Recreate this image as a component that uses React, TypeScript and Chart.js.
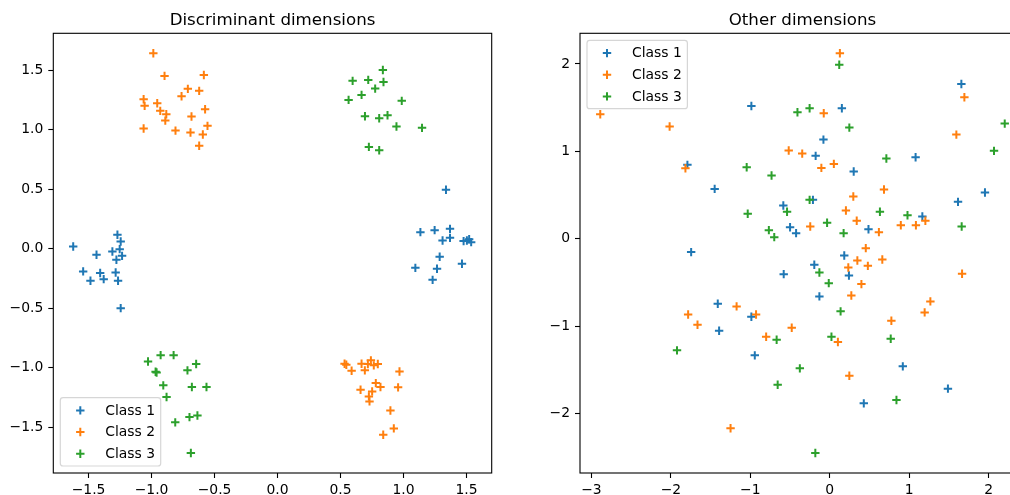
import { useEffect, useRef } from "react";
import { Chart, registerables } from "chart.js";

Chart.register(...registerables);

const FONT_FAMILY = "'DejaVu Sans', 'Liberation Sans', sans-serif";

const CLASS_LABELS = ["Class 1", "Class 2", "Class 3"];
const CLASS_COLORS = ["#1f77b4", "#ff7f0e", "#2ca02c"];

type Pt = [number, number];

// Projection onto the two discriminant dimensions
const discClass1: Pt[] = [
  [-1.622, 0.019], [-1.437, -0.05], [-1.311, -0.023], [-1.271, 0.118], [-1.245, 0.062],
  [-1.253, -0.003], [-1.279, -0.092], [-1.234, -0.059], [-1.543, -0.19], [-1.485, -0.269],
  [-1.408, -0.204], [-1.38, -0.255], [-1.285, -0.199], [-1.266, -0.269], [-1.245, -0.499],
  [1.337, 0.496], [1.134, 0.14], [1.247, 0.157], [1.369, 0.168], [1.31, 0.07],
  [1.369, 0.092], [1.477, 0.065], [1.503, 0.07], [1.521, 0.081], [1.537, 0.056],
  [1.287, -0.067], [1.094, -0.16], [1.266, -0.168], [1.464, -0.126], [1.231, -0.261],
];
const discClass2: Pt[] = [
  [-0.986, 1.644], [-0.897, 1.454], [-0.585, 1.462], [-1.063, 1.258], [-1.055, 1.202],
  [-0.955, 1.224], [-0.931, 1.16], [-0.883, 1.132], [-0.891, 1.078], [-1.063, 1.011],
  [-0.81, 0.994], [-0.762, 1.283], [-0.712, 1.345], [-0.622, 1.328], [-0.683, 1.112],
  [-0.691, 0.978], [-0.575, 1.174], [-0.556, 1.034], [-0.593, 0.961], [-0.622, 0.866],
  [0.532, -0.966], [0.546, -0.975], [0.588, -1.025], [0.667, -0.966], [0.693, -1.022],
  [0.741, -0.938], [0.717, -0.969], [0.764, -0.98], [0.796, -0.969], [0.968, -1.031],
  [0.957, -1.165], [0.78, -1.129], [0.817, -1.162], [0.659, -1.185], [0.751, -1.199],
  [0.725, -1.241], [0.73, -1.283], [0.896, -1.359], [0.923, -1.51], [0.839, -1.563],
];
const discClass3: Pt[] = [
  [0.596, 1.412], [0.564, 1.252], [0.667, 1.294], [0.72, 1.42], [0.775, 1.347],
  [0.836, 1.504], [0.841, 1.403], [0.986, 1.244], [0.694, 1.115], [0.807, 1.098],
  [0.873, 1.123], [0.944, 1.028], [1.147, 1.017], [0.725, 0.857], [0.807, 0.829],
  [-1.028, -0.947], [-0.928, -0.894], [-0.825, -0.894], [-0.968, -1.034], [-0.96, -1.04],
  [-0.646, -0.969], [-0.715, -1.022], [-0.907, -1.148], [-0.68, -1.162], [-0.564, -1.162],
  [-0.881, -1.246], [-0.812, -1.459], [-0.699, -1.415], [-0.636, -1.401], [-0.688, -1.717],
];

// Projection onto the remaining dimensions
const otherClass1: Pt[] = [
  [-0.987, 1.52], [0.152, 1.493], [1.656, 1.771], [-0.08, 1.135], [-0.178, 0.949],
  [0.301, 0.77], [1.08, 0.933], [-1.792, 0.846], [-1.449, 0.571], [-0.585, 0.381],
  [-0.212, 0.446], [-0.5, 0.133], [-0.424, 0.065], [0.487, 0.11], [1.165, 0.255],
  [1.614, 0.423], [1.953, 0.53], [-1.745, -0.152], [0.182, -0.191], [-0.195, -0.297],
  [-0.58, -0.404], [0.241, -0.419], [-0.131, -0.659], [-1.41, -0.743], [-0.987, -0.891],
  [-1.393, -1.051], [-0.944, -1.333], [0.919, -1.459], [1.487, -1.714], [0.428, -1.882],
];
const otherClass2: Pt[] = [
  [-2.889, 1.425], [0.127, 2.122], [-2.016, 1.284], [-1.817, 0.808], [-0.076, 1.436],
  [-0.517, 1.01], [-0.347, 0.975], [-0.106, 0.811], [0.051, 0.857], [1.593, 1.192],
  [1.694, 1.619], [0.296, 0.484], [0.682, 0.564], [0.203, 0.324], [0.339, 0.206],
  [-0.246, 0.141], [0.618, 0.076], [0.894, 0.156], [1.084, 0.156], [1.203, 0.206],
  [0.453, -0.107], [0.347, -0.248], [0.233, -0.328], [0.479, -0.309], [0.661, -0.236],
  [1.665, -0.4], [0.398, -0.518], [0.271, -0.648], [1.266, -0.716], [1.194, -0.842],
  [0.775, -0.937], [-1.783, -0.865], [-1.665, -0.983], [-1.173, -0.773], [-0.928, -0.865],
  [-0.479, -1.017], [-0.801, -1.12], [0.102, -1.181], [0.246, -1.566], [-1.249, -2.167],
];
const otherClass3: Pt[] = [
  [0.119, 1.992], [-0.407, 1.448], [-0.254, 1.493], [0.246, 1.272], [-1.046, 0.819],
  [-0.733, 0.724], [0.712, 0.918], [2.202, 1.318], [2.067, 1.006], [-1.033, 0.286],
  [-0.538, 0.309], [-0.254, 0.446], [-0.034, 0.183], [0.174, 0.065], [0.631, 0.309],
  [0.978, 0.27], [1.66, 0.141], [-0.767, 0.099], [-0.699, 0.019], [-0.131, -0.385],
  [-0.013, -0.507], [0.136, -0.83], [0.021, -1.12], [-0.669, -1.154], [0.767, -1.143],
  [-1.923, -1.276], [-0.377, -1.482], [-0.656, -1.669], [0.839, -1.844], [-0.182, -2.45],
];

// Tick positions and axis limits
const discXTicks = [-1.5, -1.0, -0.5, 0.0, 0.5, 1.0, 1.5];
const discYTicks = [-1.5, -1.0, -0.5, 0.0, 0.5, 1.0, 1.5];
const otherXTicks = [-3, -2, -1, 0, 1, 2];
const otherYTicks = [-2, -1, 0, 1, 2];
const discXLimits: [number, number] = [-1.78, 1.7];
const discYLimits: [number, number] = [-1.885, 1.812];
const otherXLimits: [number, number] = [-3.144, 2.457];
const otherYLimits: [number, number] = [-2.679, 2.351];

const TICK_FONT = 13.9;
const TITLE_FONT = 16.67;

const fmt = (v: number, decimals: number) =>
  (v < 0 ? "\u2212" : "") + Math.abs(v).toFixed(decimals);

function drawPlus(ctx: CanvasRenderingContext2D, x: number, y: number, r: number, color: string) {
  ctx.beginPath();
  ctx.moveTo(x - r, y);
  ctx.lineTo(x + r, y);
  ctx.moveTo(x, y - r);
  ctx.lineTo(x, y + r);
  ctx.strokeStyle = color;
  ctx.lineWidth = 2;
  ctx.stroke();
}

type PanelProps = {
  title: string;
  series: Pt[][];
  xTicks: number[];
  yTicks: number[];
  xLimits: [number, number];
  yLimits: [number, number];
  decimals: number;
  legendAt: "lower left" | "upper left";
  left: number;
  width: number;
  yAxisWidth: number;
  rightPad: number;
};

function Panel(props: PanelProps) {
  const ref = useRef<HTMLCanvasElement | null>(null);

  useEffect(() => {
    const canvas = ref.current;
    if (!canvas) return;
    const { title, series, xTicks, yTicks, xLimits, yLimits, decimals, legendAt, yAxisWidth, rightPad } = props;

    const decor = {
      id: "panelDecor",
      afterDatasetsDraw(chart: Chart) {
        const { ctx, chartArea: a } = chart;
        ctx.save();
        // axes frame
        ctx.strokeStyle = "#000";
        ctx.lineWidth = 1.1;
        ctx.strokeRect(a.left, a.top, a.right - a.left, a.bottom - a.top);

        // legend box
        ctx.font = `${TICK_FONT}px ${FONT_FAMILY}`;
        const tw = Math.max(...CLASS_LABELS.map((l) => ctx.measureText(l).width));
        const w = 45 + tw + 5.6;
        const h = 68.4;
        const pad = 7;
        const x0 = a.left + pad;
        const y0 = legendAt === "lower left" ? a.bottom - pad - h : a.top + pad;
        ctx.beginPath();
        if ((ctx as any).roundRect) (ctx as any).roundRect(x0, y0, w, h, 2.8);
        else ctx.rect(x0, y0, w, h);
        ctx.fillStyle = "rgba(255,255,255,0.8)";
        ctx.fill();
        ctx.strokeStyle = "rgba(204,204,204,0.8)";
        ctx.lineWidth = 1.2;
        ctx.stroke();
        CLASS_LABELS.forEach((label, i) => {
          const ry = y0 + 12.8 + i * 21.65;
          drawPlus(ctx, x0 + 20, ry, 4.2, CLASS_COLORS[i]);
          ctx.fillStyle = "#000";
          ctx.textAlign = "left";
          ctx.textBaseline = "middle";
          ctx.fillText(label, x0 + 45, ry + 0.5);
        });
        ctx.restore();
      },
      afterDraw(chart: Chart) {
        const { ctx, chartArea: a } = chart;
        ctx.save();
        ctx.font = `${TITLE_FONT}px ${FONT_FAMILY}`;
        ctx.fillStyle = "#000";
        ctx.textAlign = "center";
        ctx.textBaseline = "alphabetic";
        ctx.fillText(title, (a.left + a.right) / 2, a.top - 8.3);
        ctx.restore();
      },
    };

    const axisCommon = {
      type: "linear" as const,
      border: { display: false },
      grid: {
        drawOnChartArea: false,
        drawTicks: true,
        tickLength: 5,
        tickWidth: 1.1,
        tickColor: "#000",
        color: "#000",
      },
    };

    const chart = new Chart(canvas, {
      type: "scatter",
      data: {
        datasets: series.map((pts, i) => ({
          label: CLASS_LABELS[i],
          data: pts.map(([x, y]) => ({ x, y })),
          pointStyle: "cross",
          radius: 4.2,
          hoverRadius: 4.2,
          borderWidth: 2,
          borderColor: CLASS_COLORS[i],
          backgroundColor: CLASS_COLORS[i],
          showLine: false,
          order: series.length - 1 - i,
        })),
      },
      plugins: [decor],
      options: {
        animation: false,
        responsive: false,
        devicePixelRatio: 1,
        events: [],
        layout: { autoPadding: false, padding: { left: 0, top: 33.3, right: rightPad, bottom: 0 } },
        plugins: {
          legend: { display: false },
          title: { display: false },
          tooltip: { enabled: false },
        },
        scales: {
          x: {
            ...axisCommon,
            position: "bottom",
            min: xLimits[0],
            max: xLimits[1],
            afterBuildTicks: (s: any) => {
              s.ticks = xTicks.map((value) => ({ value }));
            },
            afterFit: (s: any) => {
              s.height = 22;
            },
            ticks: {
              padding: 4.5,
              color: "#000",
              autoSkip: false,
              maxRotation: 0,
              font: { family: FONT_FAMILY, size: TICK_FONT },
              callback: (v: any) => fmt(Number(v), decimals),
            },
          },
          y: {
            ...axisCommon,
            position: "left",
            min: yLimits[0],
            max: yLimits[1],
            afterBuildTicks: (s: any) => {
              s.ticks = yTicks.map((value) => ({ value }));
            },
            afterFit: (s: any) => {
              s.width = yAxisWidth;
            },
            ticks: {
              padding: 5,
              color: "#000",
              autoSkip: false,
              font: { family: FONT_FAMILY, size: TICK_FONT },
              callback: (v: any) => fmt(Number(v), decimals),
            },
          },
        },
      } as any,
    });

    return () => chart.destroy();
  }, []);

  return (
    <canvas
      ref={ref}
      width={props.width}
      height={495}
      style={{ position: "absolute", left: props.left, top: 0, width: props.width, height: 495 }}
    />
  );
}

export default function App() {
  return (
    <div
      style={{
        position: "fixed",
        left: 0,
        top: 0,
        width: 1010,
        height: 495,
        overflow: "hidden",
        background: "#fff",
      }}
    >
      <Panel
        title="Discriminant dimensions"
        series={[discClass1, discClass2, discClass3]}
        xTicks={discXTicks}
        yTicks={discYTicks}
        xLimits={discXLimits}
        yLimits={discYLimits}
        decimals={1}
        legendAt="lower left"
        left={0}
        width={505}
        yAxisWidth={53.3}
        rightPad={13.3}
      />
      <Panel
        title="Other dimensions"
        series={[otherClass1, otherClass2, otherClass3]}
        xTicks={otherXTicks}
        yTicks={otherYTicks}
        xLimits={otherXLimits}
        yLimits={otherYLimits}
        decimals={0}
        legendAt="upper left"
        left={505}
        width={535}
        yAxisWidth={75}
        rightPad={15}
      />
    </div>
  );
}
